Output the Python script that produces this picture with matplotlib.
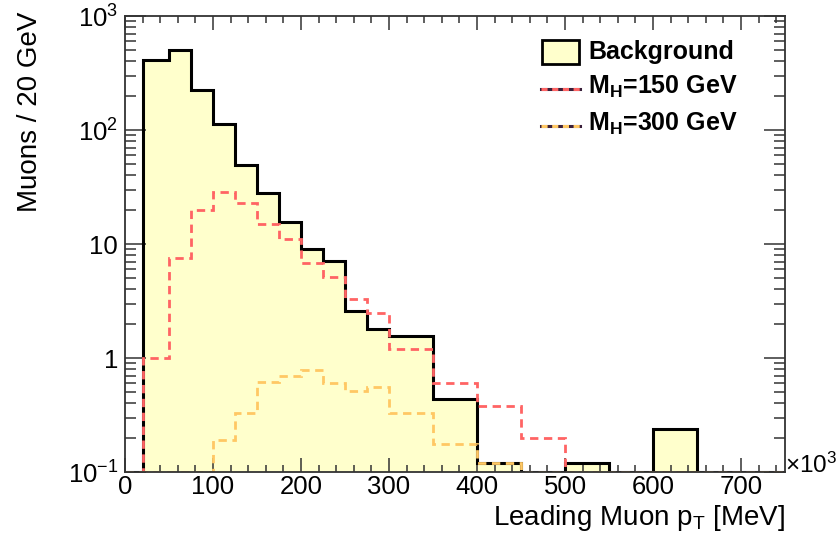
import numpy as np
import matplotlib
matplotlib.use("Agg")
import matplotlib.pyplot as plt
from matplotlib.ticker import FixedLocator, FixedFormatter, MultipleLocator, LogLocator, NullFormatter
from matplotlib.patches import Rectangle
from matplotlib.lines import Line2D

plt.rcParams['font.family'] = ['Liberation Sans', 'DejaVu Sans']
plt.rcParams['mathtext.fontset'] = 'custom'
plt.rcParams['mathtext.rm'] = 'Liberation Sans'
plt.rcParams['mathtext.bf'] = 'Liberation Sans:bold'
plt.rcParams['mathtext.it'] = 'Liberation Sans:italic'

# Histogram binning (x10^3 MeV) and bin contents
bin_edges = [0, 20, 50, 75, 100, 125, 150, 175, 200, 225, 250, 275, 300,
             350, 400, 450, 500, 550, 600, 650, 700, 750]
background = [0, 410, 500, 226, 112, 49, 28, 15.7, 9.0, 7.1, 2.6, 1.8,
              1.56, 0.44, 0.12, 0, 0.12, 0, 0.24, 0, 0]
signal_150 = [0, 1.0, 7.6, 20, 28.5, 23, 15, 11, 6.8, 5.1, 3.3, 2.5,
              1.2, 0.6, 0.38, 0.2, 0, 0, 0, 0, 0]
signal_300 = [0, 0, 0, 0, 0.19, 0.33, 0.61, 0.70, 0.78, 0.60, 0.51, 0.56,
              0.33, 0.175, 0.12, 0, 0, 0, 0, 0, 0]

y_ticks = [0.1, 1, 10, 100, 1000]
y_tick_labels = [r'$10^{-1}$', '1', '10', r'$10^{2}$', r'$10^{3}$']
x_ticks = [0, 100, 200, 300, 400, 500, 600, 700]

legend_labels = ['Background', r'M$_{\mathbf{H}}$=150 GeV', r'M$_{\mathbf{H}}$=300 GeV']

FILL = '#ffffcc'
RED = '#ff6464'
ORANGE = '#ffc864'
DARK = '#3a1f3a'

YMIN, YMAX = 0.1, 1000
W, H = 838, 541

fig = plt.figure(figsize=(W / 100, H / 100), dpi=100)
ax = fig.add_axes([125 / W, 1 - 472 / H, (785 - 125) / W, (472 - 16) / H])
ax.set_yscale('log')
ax.set_xlim(0, 750)
ax.set_ylim(YMIN, YMAX)

edges = np.asarray(bin_edges, dtype=float)
bg = np.clip(np.asarray(background, dtype=float), YMIN, None)
s150 = np.clip(np.asarray(signal_150, dtype=float), YMIN, None)
s300 = np.clip(np.asarray(signal_300, dtype=float), YMIN, None)

ax.stairs(bg, edges, fill=True, baseline=YMIN, color=FILL, zorder=1)
ax.stairs(bg, edges, baseline=YMIN, color='black', lw=2.2, zorder=2)
ax.stairs(s150, edges, baseline=YMIN, color=RED, lw=2.0,
          linestyle=(0, (3, 2)), zorder=3)
ax.stairs(s300, edges, baseline=YMIN, color=ORANGE, lw=2.0,
          linestyle=(0, (3, 2)), zorder=4)

# Axes styling
for sp in ax.spines.values():
    sp.set_linewidth(1.3)
    sp.set_color('#333333')
    sp.set_zorder(5)

ax.xaxis.set_major_locator(FixedLocator(x_ticks))
ax.xaxis.set_minor_locator(MultipleLocator(20))
ax.yaxis.set_major_locator(FixedLocator(y_ticks))
ax.yaxis.set_major_formatter(FixedFormatter(y_tick_labels))
ax.yaxis.set_minor_locator(LogLocator(base=10, subs=np.arange(2, 10)))
ax.yaxis.set_minor_formatter(NullFormatter())

ax.tick_params(axis='both', which='both', direction='in', top=True, right=True,
               colors='#333333', labelcolor='black', width=1.1)
ax.tick_params(axis='x', which='major', length=10, labelsize=18.5, pad=2)
ax.tick_params(axis='x', which='minor', length=5)
ax.tick_params(axis='y', which='major', length=15, labelsize=18.5, pad=5)
ax.tick_params(axis='y', which='minor', length=8)

ax.set_xlabel(r'Leading Muon p$_{\mathrm{T}}$ [MeV]', fontsize=20, ha='right',
              x=1.0, labelpad=3)
fig.text(30 / W, 1 - 12 / H, 'Muons / 20 GeV', rotation=90, fontsize=20,
         ha='center', va='top')
fig.text(785 / W, 1 - 465 / H, r'$\times10^{3}$', fontsize=17.5,
         ha='left', va='center')

# Legend
def px(x, y):
    return x / W, 1 - y / H

bx, by = px(542, 64)
box = Rectangle((bx, by), 37 / W, 24 / H, transform=fig.transFigure,
                facecolor=FILL, edgecolor='black', lw=2.0, zorder=10)
fig.add_artist(box)
fig.text(*px(588, 52), legend_labels[0], fontsize=18, fontweight='bold',
         ha='left', va='center')
for yy, col, lab in [(89, RED, legend_labels[1]), (126, ORANGE, legend_labels[2])]:
    x0, y0 = px(541, yy)
    x1, _ = px(580, yy)
    fig.add_artist(Line2D([x0, x1], [y0, y0], transform=fig.transFigure,
                          color=DARK, lw=2.2, zorder=10))
    fig.add_artist(Line2D([x0, x1], [y0, y0], transform=fig.transFigure,
                          color=col, lw=2.2, linestyle=(0, (2, 1.5)), zorder=11))
    fig.text(*px(588, yy - 2), lab, fontsize=18, fontweight='bold',
             ha='left', va='center')

fig.savefig('out.png', dpi=100)
